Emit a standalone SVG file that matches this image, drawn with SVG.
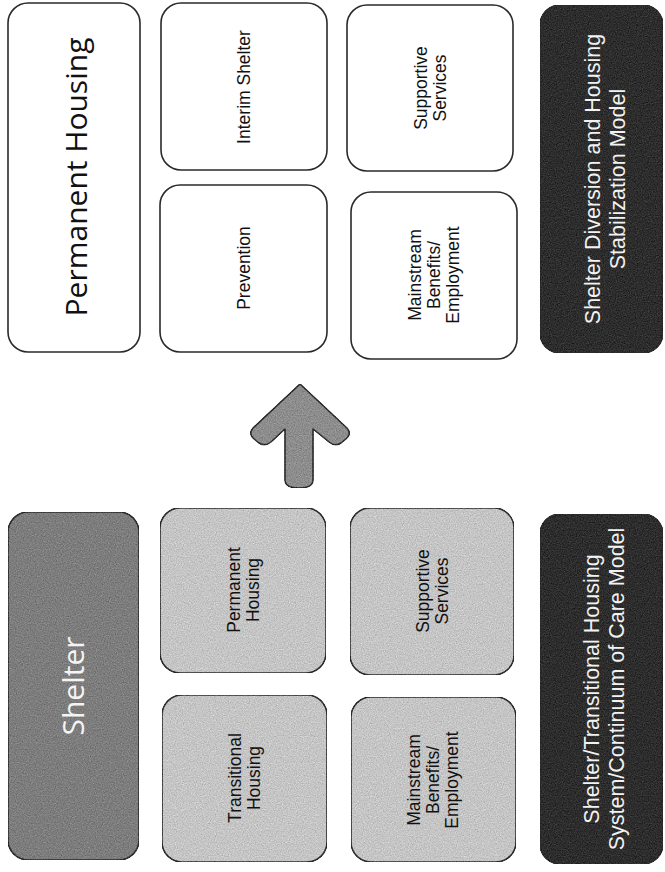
<svg xmlns="http://www.w3.org/2000/svg" width="665" height="872" viewBox="0 0 665 872">
  <style>
    .box { stroke: #2a2a2a; stroke-width: 1.6; }
    .white { fill: #ffffff; }
    .light { fill: #c4c4c4; }
    .mid { fill: #7c7c7c; }
    .dark { fill: #2c2c2c; }
    .grainy { filter: url(#grain); }
    .t { font-family: "Liberation Sans", Arial, sans-serif; font-size: 17.5px; fill: #111; text-anchor: middle; }
    .big { font-family: "Open Sans", "Liberation Sans", sans-serif; font-size: 30px; text-anchor: middle; }
    .dt { font-family: "Liberation Sans", Arial, sans-serif; font-size: 21.5px; fill: #f2f2f2; text-anchor: middle; }
  </style>
  <defs>
    <filter id="grain" x="0" y="0" width="100%" height="100%" color-interpolation-filters="sRGB">
      <feTurbulence type="fractalNoise" baseFrequency="0.85" numOctaves="2" seed="4" result="n"/>
      <feColorMatrix in="n" type="matrix" values="0.33 0.33 0.33 0 0  0.33 0.33 0.33 0 0  0.33 0.33 0.33 0 0  0 0 0 0 1" result="g"/>
      <feComposite in="SourceGraphic" in2="g" operator="arithmetic" k1="0" k2="1" k3="0.45" k4="-0.22" result="m"/>
      <feComposite in="m" in2="SourceGraphic" operator="in"/>
    </filter>
  </defs>
  <rect width="665" height="872" fill="#ffffff"/>

  <!-- Top half: Shelter Diversion and Housing Stabilization Model -->
  <g id="permanent-housing-top">
    <rect class="box white" x="8" y="3" width="132" height="349" rx="20"/>
    <g transform="translate(74,177) rotate(-90)"><text class="big" x="0" y="13" fill="#111">Permanent Housing</text></g>
  </g>
  <g id="interim-shelter">
    <rect class="box white" x="161" y="3" width="166" height="167" rx="20"/>
    <g transform="translate(244,87) rotate(-90)"><text class="t" x="0" y="6.3">Interim Shelter</text></g>
  </g>
  <g id="prevention">
    <rect class="box white" x="160" y="185" width="167" height="167" rx="20"/>
    <g transform="translate(244,268) rotate(-90)"><text class="t" x="0" y="6.3">Prevention</text></g>
  </g>
  <g id="supportive-services-top">
    <rect class="box white" x="347" y="5" width="166" height="166" rx="20"/>
    <g transform="translate(430,88) rotate(-90)"><text class="t" x="0" y="-3.2">Supportive<tspan x="0" dy="19">Services</tspan></text></g>
  </g>
  <g id="mainstream-top">
    <rect class="box white" x="351" y="192" width="166" height="167" rx="20"/>
    <g transform="translate(434,275) rotate(-90)"><text class="t" x="0" y="-12.7">Mainstream<tspan x="0" dy="19">Benefits/</tspan><tspan x="0" dy="19">Employment</tspan></text></g>
  </g>
  <g id="model-top">
    <rect class="box dark grainy" x="540" y="5" width="123" height="348" rx="20"/>
    <g transform="translate(603,179) rotate(-90)"><text class="dt" x="0" y="-3">Shelter Diversion and Housing<tspan x="0" dy="25">Stabilization Model</tspan></text></g>
  </g>

  <!-- Connector -->
  <g id="connectors">
    <path class="grainy" d="M300,384 L347,428 Q352,434 346,439 L341,443 Q335,447 329,442 L313,429 L313,480 Q313,488 299,488 Q285,488 285,480 L285,429 L271,442 Q265,447 259,443 L254,439 Q248,434 253,428 Z" fill="#8c8c8c" stroke="#2a2a2a" stroke-width="1.6" stroke-linejoin="round"/>
  </g>

  <!-- Bottom half: Shelter/Transitional Housing System/Continuum of Care Model -->
  <g id="shelter">
    <rect class="box mid grainy" x="8" y="512" width="131" height="348" rx="20"/>
    <g transform="translate(73,686) rotate(-90)"><text class="big" x="0" y="11" fill="#f4f4f4">Shelter</text></g>
  </g>
  <g id="permanent-housing-bottom">
    <rect class="box light grainy" x="160" y="508" width="166" height="165" rx="20"/>
    <g transform="translate(243,590) rotate(-90)"><text class="t" x="0" y="-3.2">Permanent<tspan x="0" dy="19">Housing</tspan></text></g>
  </g>
  <g id="supportive-services-bottom">
    <rect class="box light grainy" x="350" y="508" width="164" height="167" rx="20"/>
    <g transform="translate(432,591) rotate(-90)"><text class="t" x="0" y="-3.2">Supportive<tspan x="0" dy="19">Services</tspan></text></g>
  </g>
  <g id="transitional-housing">
    <rect class="box light grainy" x="162" y="695" width="165" height="167" rx="20"/>
    <g transform="translate(244,778) rotate(-90)"><text class="t" x="0" y="-3.2">Transitional<tspan x="0" dy="19">Housing</tspan></text></g>
  </g>
  <g id="mainstream-bottom">
    <rect class="box light grainy" x="351" y="697" width="165" height="165" rx="20"/>
    <g transform="translate(433,780) rotate(-90)"><text class="t" x="0" y="-12.7">Mainstream<tspan x="0" dy="19">Benefits/</tspan><tspan x="0" dy="19">Employment</tspan></text></g>
  </g>
  <g id="model-bottom">
    <rect class="box dark grainy" x="540" y="514" width="123" height="350" rx="20"/>
    <g transform="translate(602,689) rotate(-90)"><text class="dt" x="0" y="-3">Shelter/Transitional Housing<tspan x="0" dy="25">System/Continuum of Care Model</tspan></text></g>
  </g>
</svg>
